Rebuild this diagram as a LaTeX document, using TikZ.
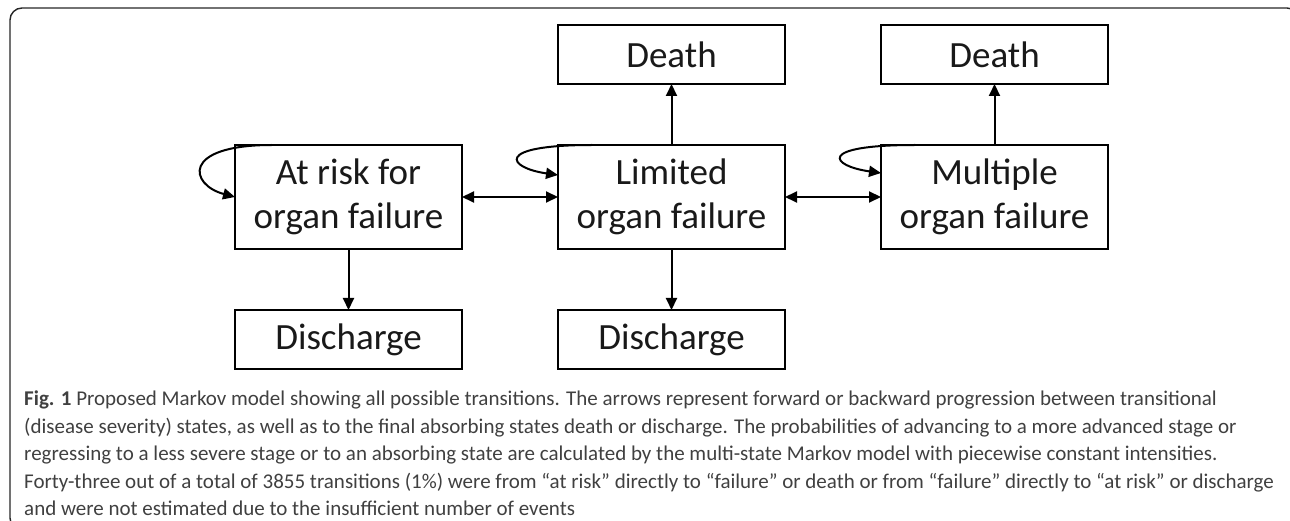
\documentclass[tikz,border=0pt]{standalone}
\usepackage{fontspec}
\setmainfont{Carlito}
\newfontfamily\capfont{Carlito}
\usetikzlibrary{arrows.meta, positioning}

\begin{document}
\begin{tikzpicture}[
        x=1pt, y=-1pt,
        node distance=61pt and 96pt,
        state/.style={rectangle, draw, line width=1.5pt, outer sep=0pt, minimum width=227pt, minimum height=104pt, align=center, font=\fontsize{37}{44}\selectfont, text=black!90},
        sink/.style={state, minimum height=59pt},
        arrow/.style={->, >={Triangle[length=12pt, width=11pt]}, line width=2pt},
        caption/.style={align=left, inner sep=0pt, text=black!75, font=\capfont\fontsize{21}{27.5}\selectfont}
    ]
        \useasboundingbox (0,0) rectangle (1290,521);
        \clip (0,0) rectangle (1290,521);
        \draw[line width=1.4pt, black!85, rounded corners=12pt] (10,8) rectangle (1299,530);

        \node[state] (risk) at (348.5,197) {At risk for\\organ failure};
        \node[state, right=of risk] (limited) {Limited\\organ failure};
        \node[state, right=of limited] (multiple) {Multiple\\organ failure};
        \node[sink, above=of limited] (deathlim) {Death};
        \node[sink, above=of multiple] (deathmult) {Death};
        \node[sink, below=of risk] (dischrisk) {Discharge};
        \node[sink, below=of limited] (dischlim) {Discharge};

        \draw[arrow, <->] (risk) -- (limited);
        \draw[arrow, <->] (limited) -- (multiple);
        \draw[arrow] (limited) -- (deathlim);
        \draw[arrow] (multiple) -- (deathmult);
        \draw[arrow] (risk) -- (dischrisk);
        \draw[arrow] (limited) -- (dischlim);

        \draw[arrow] ([xshift=37pt]risk.north west) .. controls +(-92,0) and +(-45,-12) .. (risk.west);
        \draw[arrow] ([xshift=34pt]limited.north west) .. controls +(-100,0) and +(-50,-7) .. ([yshift=22pt]limited.west);
        \draw[arrow] ([xshift=34pt]multiple.north west) .. controls +(-100,0) and +(-50,-7) .. ([yshift=24pt]multiple.west);

        \node[caption, anchor=north west] (cap) at (24,391) {\textbf{Fig. 1} Proposed Markov model showing all possible transitions. The arrows represent forward or backward progression between transitional\\
(disease severity) states, as well as to the final absorbing states death or discharge. The probabilities of advancing to a more advanced stage or\\
regressing to a less severe stage or to an absorbing state are calculated by the multi-state Markov model with piecewise constant intensities.\\
Forty-three out of a total of 3855 transitions (1\%) were from “at risk” directly to “failure” or death or from “failure” directly to “at risk” or discharge\\
and were not estimated due to the insufficient number of events};
    \end{tikzpicture}
\end{document}
